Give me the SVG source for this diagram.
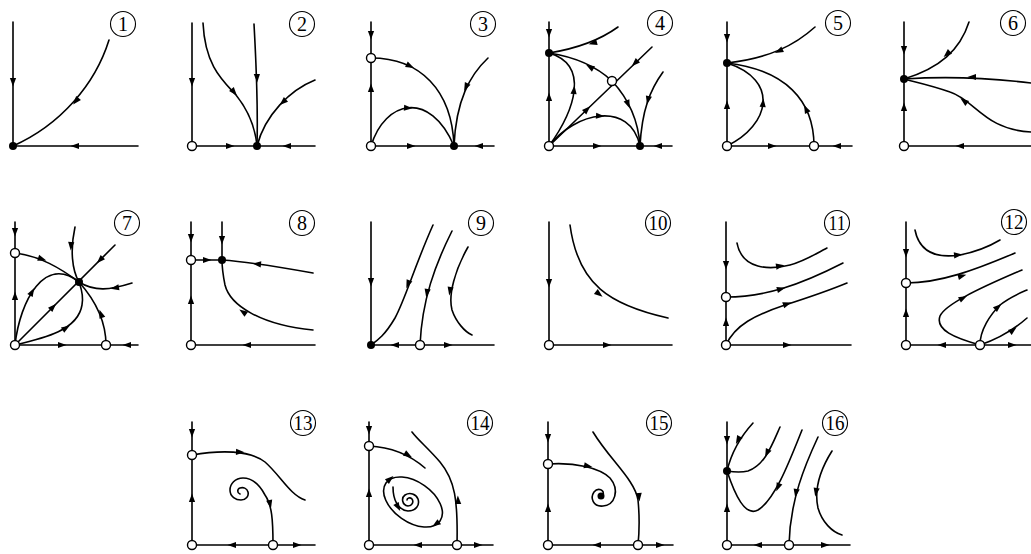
<svg xmlns="http://www.w3.org/2000/svg" xmlns:xlink="http://www.w3.org/1999/xlink" width="1031" height="554" viewBox="0 0 1031 554">
<style>
.ln{fill:none;stroke:#000;stroke-width:1.6;stroke-linecap:round}
.oc{fill:#fff;stroke:#000;stroke-width:1.4}
.fc{fill:#000}
.lc{fill:none;stroke:#000;stroke-width:1.1}
.lt{font-family:"Liberation Serif",serif;font-size:20px;text-anchor:middle;fill:#000}
</style>
<defs>
<path id="ah" d="M4.5,0 L-4,-3.1 L-4,3.1 Z" fill="#000"/>
</defs>
<rect width="1031" height="554" fill="#fff"/>

<g id="panel1">
<g class="connectors">
<path class="ln" d="M13,22 V146 H138"/>
<path class="ln" d="M109,40 C95,85 60,125 13,146"/>
<use href="#ah" transform="translate(13,82) rotate(90)"/>
<use href="#ah" transform="translate(75,146) rotate(180)"/>
<use href="#ah" transform="translate(76,101) rotate(130)"/>
</g>
<circle class="fc" cx="13" cy="146" r="4"/>
<circle class="lc" cx="123" cy="24" r="12.5"/><text class="lt" x="123" y="31">1</text>
</g>

<g id="panel2">
<g class="connectors">
<path class="ln" d="M192,23 V146 H315"/>
<path class="ln" d="M203,23 C205,65 222,80 236,95 C248,110 255,125 257,146"/>
<path class="ln" d="M254,24 C256,60 258,110 257,146"/>
<path class="ln" d="M315,80 C290,90 265,115 257,146"/>
<use href="#ah" transform="translate(192,82) rotate(90)"/>
<use href="#ah" transform="translate(230,146)"/>
<use href="#ah" transform="translate(287,146) rotate(180)"/>
<use href="#ah" transform="translate(234,92) rotate(50)"/>
<use href="#ah" transform="translate(257,78) rotate(88)"/>
<use href="#ah" transform="translate(283,102) rotate(138)"/>
</g>
<circle class="oc" cx="192" cy="146" r="4.5"/>
<circle class="fc" cx="257" cy="146" r="4"/>
<circle class="lc" cx="302" cy="24" r="12.5"/><text class="lt" x="302" y="31">2</text>
</g>

<g id="panel3">
<g class="connectors">
<path class="ln" d="M371,22 V146 H494"/>
<path class="ln" d="M371,58 C420,58 452,90 454,146"/>
<path class="ln" d="M371,146 C385,100 430,90 454,146"/>
<path class="ln" d="M488,58 C470,75 456,100 454,146"/>
<use href="#ah" transform="translate(371,35) rotate(90)"/>
<use href="#ah" transform="translate(371,88) rotate(-90)"/>
<use href="#ah" transform="translate(411,146)"/>
<use href="#ah" transform="translate(479,146) rotate(180)"/>
<use href="#ah" transform="translate(410,66) rotate(26)"/>
<use href="#ah" transform="translate(408,108) rotate(4)"/>
<use href="#ah" transform="translate(466,87) rotate(115)"/>
</g>
<circle class="oc" cx="371" cy="58" r="4.5"/>
<circle class="oc" cx="371" cy="146" r="4.5"/>
<circle class="fc" cx="454" cy="146" r="4"/>
<circle class="lc" cx="483" cy="24" r="12.5"/><text class="lt" x="483" y="31">3</text>
</g>

<g id="panel4">
<g class="connectors">
<path class="ln" d="M549,22 V146 H672"/>
<path class="ln" d="M618,27 C600,40 580,48 549,53"/>
<path class="ln" d="M549,146 L652,47"/>
<path class="ln" d="M612,81 C595,65 575,57 549,53"/>
<path class="ln" d="M612,81 C625,95 638,115 640,146"/>
<path class="ln" d="M549,146 C575,110 590,65 549,53"/>
<path class="ln" d="M549,146 C575,112 630,100 640,146"/>
<path class="ln" d="M663,72 C650,90 642,110 640,146"/>
<use href="#ah" transform="translate(549,33) rotate(90)"/>
<use href="#ah" transform="translate(549,97) rotate(-90)"/>
<use href="#ah" transform="translate(597,146)"/>
<use href="#ah" transform="translate(658,146) rotate(180)"/>
<use href="#ah" transform="translate(593,43) rotate(165)"/>
<use href="#ah" transform="translate(587,109.5) rotate(-44)"/>
<use href="#ah" transform="translate(635,63) rotate(136)"/>
<use href="#ah" transform="translate(590,67) rotate(-150)"/>
<use href="#ah" transform="translate(628,104) rotate(68)"/>
<use href="#ah" transform="translate(574,90) rotate(-84)"/>
<use href="#ah" transform="translate(600,116) rotate(4)"/>
<use href="#ah" transform="translate(648,100) rotate(103)"/>
</g>
<circle class="fc" cx="549" cy="53" r="4"/>
<circle class="oc" cx="549" cy="146" r="4.5"/>
<circle class="fc" cx="640" cy="146" r="4"/>
<circle class="oc" cx="612" cy="81" r="4.5"/>
<circle class="lc" cx="660" cy="23" r="12.5"/><text class="lt" x="660" y="30">4</text>
</g>

<g id="panel5">
<g class="connectors">
<path class="ln" d="M727,22 V146 H852"/>
<path class="ln" d="M815,27 C795,45 770,58 727,63"/>
<path class="ln" d="M727,146 C770,125 780,80 727,63"/>
<path class="ln" d="M814,146 C814,100 785,70 727,63"/>
<use href="#ah" transform="translate(727,38) rotate(90)"/>
<use href="#ah" transform="translate(727,105) rotate(-90)"/>
<use href="#ah" transform="translate(772,146)"/>
<use href="#ah" transform="translate(837,146) rotate(180)"/>
<use href="#ah" transform="translate(779,51) rotate(155)"/>
<use href="#ah" transform="translate(763,103) rotate(-85)"/>
<use href="#ah" transform="translate(806,109) rotate(-116)"/>
</g>
<circle class="fc" cx="727" cy="63" r="4"/>
<circle class="oc" cx="727" cy="146" r="4.5"/>
<circle class="oc" cx="814" cy="146" r="4.5"/>
<circle class="lc" cx="838" cy="23" r="12.5"/><text class="lt" x="838" y="30">5</text>
</g>

<g id="panel6">
<g class="connectors">
<path class="ln" d="M904,22 V146 H1031"/>
<path class="ln" d="M969,22 C960,50 940,68 904,79"/>
<path class="ln" d="M1031,83 C990,78 950,76 904,79"/>
<path class="ln" d="M1031,132 C985,130 975,100 950,92 C930,85 915,82 904,79"/>
<use href="#ah" transform="translate(904,50) rotate(90)"/>
<use href="#ah" transform="translate(904,107) rotate(-90)"/>
<use href="#ah" transform="translate(960,146) rotate(180)"/>
<use href="#ah" transform="translate(947,54) rotate(138)"/>
<use href="#ah" transform="translate(972,77) rotate(180)"/>
<use href="#ah" transform="translate(964,101) rotate(-143)"/>
</g>
<circle class="fc" cx="904" cy="79" r="4"/>
<circle class="oc" cx="904" cy="146" r="4.5"/>
<circle class="lc" cx="1013" cy="23" r="12.5"/><text class="lt" x="1013" y="30">6</text>
</g>

<g id="panel7">
<g class="connectors">
<path class="ln" d="M15,222 V345 H138"/>
<path class="ln" d="M15,253 C40,256 60,268 79,282"/>
<path class="ln" d="M15,345 L115,245"/>
<path class="ln" d="M15,345 C20,300 45,255 79,282"/>
<path class="ln" d="M15,345 C45,338 78,330 82,305 C84,295 81,288 79,282"/>
<path class="ln" d="M75,227 C70,250 72,270 79,282"/>
<path class="ln" d="M132,283 C110,290 95,292 79,282"/>
<path class="ln" d="M106,345 C106,320 95,300 79,282"/>
<use href="#ah" transform="translate(15,232) rotate(90)"/>
<use href="#ah" transform="translate(15,296) rotate(-90)"/>
<use href="#ah" transform="translate(62,345)"/>
<use href="#ah" transform="translate(127,345) rotate(180)"/>
<use href="#ah" transform="translate(42,259) rotate(18)"/>
<use href="#ah" transform="translate(53,307) rotate(-45)"/>
<use href="#ah" transform="translate(100,260) rotate(135)"/>
<use href="#ah" transform="translate(32,292) rotate(-60)"/>
<use href="#ah" transform="translate(66,328) rotate(-32)"/>
<use href="#ah" transform="translate(71,246) rotate(93)"/>
<use href="#ah" transform="translate(115,288) rotate(170)"/>
<use href="#ah" transform="translate(101,314) rotate(-110)"/>
</g>
<circle class="oc" cx="15" cy="253" r="4.5"/>
<circle class="oc" cx="15" cy="345" r="4.5"/>
<circle class="oc" cx="106" cy="345" r="4.5"/>
<circle class="fc" cx="79" cy="282" r="4"/>
<circle class="lc" cx="127" cy="223" r="12.5"/><text class="lt" x="127" y="230">7</text>
</g>

<g id="panel8">
<g class="connectors">
<path class="ln" d="M191,222 V345 H315"/>
<path class="ln" d="M191,260 H222"/>
<path class="ln" d="M222,222 V260"/>
<path class="ln" d="M313,273 C280,267 250,262 222,260"/>
<path class="ln" d="M313,330 C260,325 230,305 225,285 C223,275 222,268 222,260"/>
<use href="#ah" transform="translate(191,238) rotate(90)"/>
<use href="#ah" transform="translate(191,300) rotate(-90)"/>
<use href="#ah" transform="translate(247,345) rotate(180)"/>
<use href="#ah" transform="translate(207,260)"/>
<use href="#ah" transform="translate(222,240) rotate(90)"/>
<use href="#ah" transform="translate(257,264) rotate(186)"/>
<use href="#ah" transform="translate(243,312) rotate(-145)"/>
</g>
<circle class="oc" cx="191" cy="260" r="4.5"/>
<circle class="oc" cx="191" cy="345" r="4.5"/>
<circle class="fc" cx="222" cy="260" r="4"/>
<circle class="lc" cx="302" cy="223" r="12.5"/><text class="lt" x="302" y="230">8</text>
</g>

<g id="panel9">
<g class="connectors">
<path class="ln" d="M371,222 V345 H494"/>
<path class="ln" d="M433,225 C415,265 405,300 395,318 C385,335 378,340 371,345"/>
<path class="ln" d="M452,231 C435,265 422,300 420,345"/>
<path class="ln" d="M468,247 C455,270 448,295 452,310 C456,322 465,332 472,335"/>
<use href="#ah" transform="translate(371,282) rotate(90)"/>
<use href="#ah" transform="translate(395,345) rotate(180)"/>
<use href="#ah" transform="translate(448,345)"/>
<use href="#ah" transform="translate(408,284) rotate(112)"/>
<use href="#ah" transform="translate(427,293) rotate(100)"/>
<use href="#ah" transform="translate(450,291) rotate(100)"/>
</g>
<circle class="fc" cx="371" cy="345" r="4"/>
<circle class="oc" cx="420" cy="345" r="4.5"/>
<circle class="lc" cx="481" cy="223" r="12.5"/><text class="lt" x="481" y="230">9</text>
</g>

<g id="panel10">
<g class="connectors">
<path class="ln" d="M549,222 V345 H672"/>
<path class="ln" d="M570,225 C578,285 610,305 668,318"/>
<use href="#ah" transform="translate(549,283) rotate(90)"/>
<use href="#ah" transform="translate(607,345)"/>
<use href="#ah" transform="translate(599,294) rotate(38)"/>
</g>
<circle class="oc" cx="549" cy="345" r="4.5"/>
<circle class="lc" cx="658" cy="223" r="12.5"/><text class="lt" x="658" y="230" textLength="19" lengthAdjust="spacingAndGlyphs">10</text>
</g>

<g id="panel11">
<g class="connectors">
<path class="ln" d="M726,222 V345 H851"/>
<path class="ln" d="M737,243 C742,270 770,270 790,265 C805,261 815,254 827,248"/>
<path class="ln" d="M726,297 C765,297 800,285 843,263"/>
<path class="ln" d="M726,345 C735,325 755,315 785,305 C810,297 830,290 847,283"/>
<use href="#ah" transform="translate(726,265) rotate(90)"/>
<use href="#ah" transform="translate(726,322) rotate(-90)"/>
<use href="#ah" transform="translate(787,345)"/>
<use href="#ah" transform="translate(780,266) rotate(-8)"/>
<use href="#ah" transform="translate(781,289) rotate(-15)"/>
<use href="#ah" transform="translate(787,304) rotate(-19)"/>
</g>
<circle class="oc" cx="726" cy="297" r="4.5"/>
<circle class="oc" cx="726" cy="345" r="4.5"/>
<circle class="lc" cx="837" cy="223" r="12.5"/><text class="lt" x="837" y="230" textLength="17" lengthAdjust="spacingAndGlyphs">11</text>
</g>

<g id="panel12">
<g class="connectors">
<path class="ln" d="M906,222 V345 H1031"/>
<path class="ln" d="M915,230 C920,255 940,258 960,255 C975,252 990,246 1000,240"/>
<path class="ln" d="M906,283 C940,283 975,270 1015,253"/>
<path class="ln" d="M980,345 C955,338 935,330 940,316 C945,305 975,290 1022,270"/>
<path class="ln" d="M980,345 C980,330 990,315 1000,305 C1010,297 1020,293 1027,290"/>
<path class="ln" d="M980,345 C995,340 1010,333 1027,318"/>
<use href="#ah" transform="translate(906,253) rotate(90)"/>
<use href="#ah" transform="translate(906,313) rotate(-90)"/>
<use href="#ah" transform="translate(942,345) rotate(180)"/>
<use href="#ah" transform="translate(1012,345)"/>
<use href="#ah" transform="translate(958,255) rotate(-5)"/>
<use href="#ah" transform="translate(962,276) rotate(-15)"/>
<use href="#ah" transform="translate(963,298) rotate(-28)"/>
<use href="#ah" transform="translate(998,307) rotate(-40)"/>
<use href="#ah" transform="translate(1013,330) rotate(-37)"/>
</g>
<circle class="oc" cx="906" cy="283" r="4.5"/>
<circle class="oc" cx="906" cy="345" r="4.5"/>
<circle class="oc" cx="980" cy="345" r="4.5"/>
<circle class="lc" cx="1014" cy="222" r="12.5"/><text class="lt" x="1014" y="229" textLength="19" lengthAdjust="spacingAndGlyphs">12</text>
</g>

<g id="panel13">
<g class="connectors">
<path class="ln" d="M192,422 V545 H315"/>
<path class="ln" d="M192,455 C220,450 250,450 265,462 C280,475 290,495 305,500"/>
<path class="ln" d="M273,545 C273,520 272,505 265,495 C258,482 250,478 243,478 C235,478 230,484 230,490 C230,497 236,500 241,500 C246,500 249,496 248,492 C247,488 243,487 240,488 C237,489 237,493 240,494"/>
<use href="#ah" transform="translate(192,433) rotate(90)"/>
<use href="#ah" transform="translate(192,498) rotate(-90)"/>
<use href="#ah" transform="translate(232,545) rotate(180)"/>
<use href="#ah" transform="translate(297,545)"/>
<use href="#ah" transform="translate(240,452) rotate(2)"/>
<use href="#ah" transform="translate(270,504) rotate(78)"/>
</g>
<circle class="oc" cx="192" cy="455" r="4.5"/>
<circle class="oc" cx="192" cy="545" r="4.5"/>
<circle class="oc" cx="273" cy="545" r="4.5"/>
<circle class="lc" cx="303" cy="423" r="12.5"/><text class="lt" x="303" y="430" textLength="19" lengthAdjust="spacingAndGlyphs">13</text>
</g>

<g id="panel14">
<g class="connectors">
<path class="ln" d="M369,422 V545 H493"/>
<path class="ln" d="M369,446 C390,447 410,455 425,468"/>
<path class="ln" d="M457,545 C458,500 455,480 440,462 C428,448 418,440 412,432"/>
<ellipse class="ln" cx="413" cy="502" rx="33" ry="20" transform="rotate(35 413 502)"/>
<path class="ln" d="M393,487 C393,500 398,510 408,511 C416,511 420,505 418,499 C416,494 410,492 405,495 C401,498 402,505 408,506 C412,506 414,502 412,499 C410,497 407,498 407,500"/>
<use href="#ah" transform="translate(369,430) rotate(90)"/>
<use href="#ah" transform="translate(369,493) rotate(-90)"/>
<use href="#ah" transform="translate(418,545) rotate(180)"/>
<use href="#ah" transform="translate(478,545)"/>
<use href="#ah" transform="translate(408,455) rotate(30)"/>
<use href="#ah" transform="translate(458,500) rotate(-92)"/>
<use href="#ah" transform="translate(390,479) rotate(-40)"/>
<use href="#ah" transform="translate(436,524) rotate(145)"/>
<use href="#ah" transform="translate(398,507) rotate(60)"/>
</g>
<circle class="oc" cx="369" cy="446" r="4.5"/>
<circle class="oc" cx="369" cy="545" r="4.5"/>
<circle class="oc" cx="457" cy="545" r="4.5"/>
<circle class="lc" cx="480" cy="423" r="12.5"/><text class="lt" x="480" y="430" textLength="19" lengthAdjust="spacingAndGlyphs">14</text>
</g>

<g id="panel15">
<g class="connectors">
<path class="ln" d="M548,422 V545 H673"/>
<path class="ln" d="M548,464 C575,462 600,468 610,478 C620,490 615,505 603,506 C593,507 590,498 594,492 C598,487 605,490 603,495"/>
<path class="ln" d="M593,432 C610,460 635,480 638,500 C640,520 639,535 638,545"/>
<use href="#ah" transform="translate(548,438) rotate(90)"/>
<use href="#ah" transform="translate(548,508) rotate(-90)"/>
<use href="#ah" transform="translate(597,545) rotate(180)"/>
<use href="#ah" transform="translate(660,545)"/>
<use href="#ah" transform="translate(588,466) rotate(12)"/>
<use href="#ah" transform="translate(639,497) rotate(85)"/>
</g>
<circle class="fc" cx="601" cy="496" r="3.5"/>
<circle class="oc" cx="548" cy="464" r="4.5"/>
<circle class="oc" cx="548" cy="545" r="4.5"/>
<circle class="oc" cx="638" cy="545" r="4.5"/>
<circle class="lc" cx="659" cy="423" r="12.5"/><text class="lt" x="659" y="430" textLength="19" lengthAdjust="spacingAndGlyphs">15</text>
</g>

<g id="panel16">
<g class="connectors">
<path class="ln" d="M727,422 V545 H850"/>
<path class="ln" d="M753,423 C742,435 732,450 727,471"/>
<path class="ln" d="M780,427 C772,445 765,465 748,471 C740,473 733,472 727,471"/>
<path class="ln" d="M802,430 C790,460 775,500 758,510 C745,517 735,495 727,471"/>
<path class="ln" d="M818,437 C805,465 790,500 789,545"/>
<path class="ln" d="M832,451 C820,470 814,490 818,508 C822,522 832,532 842,535"/>
<use href="#ah" transform="translate(727,440) rotate(90)"/>
<use href="#ah" transform="translate(727,508) rotate(-90)"/>
<use href="#ah" transform="translate(758,545) rotate(180)"/>
<use href="#ah" transform="translate(825,545)"/>
<use href="#ah" transform="translate(738,440) rotate(118)"/>
<use href="#ah" transform="translate(767,453) rotate(115)"/>
<use href="#ah" transform="translate(778,487) rotate(112)"/>
<use href="#ah" transform="translate(796,493) rotate(100)"/>
<use href="#ah" transform="translate(816,492) rotate(100)"/>
</g>
<circle class="fc" cx="727" cy="471" r="4"/>
<circle class="oc" cx="727" cy="545" r="4.5"/>
<circle class="oc" cx="789" cy="545" r="4.5"/>
<circle class="lc" cx="835" cy="423" r="12.5"/><text class="lt" x="835" y="430" textLength="19" lengthAdjust="spacingAndGlyphs">16</text>
</g>
</svg>
